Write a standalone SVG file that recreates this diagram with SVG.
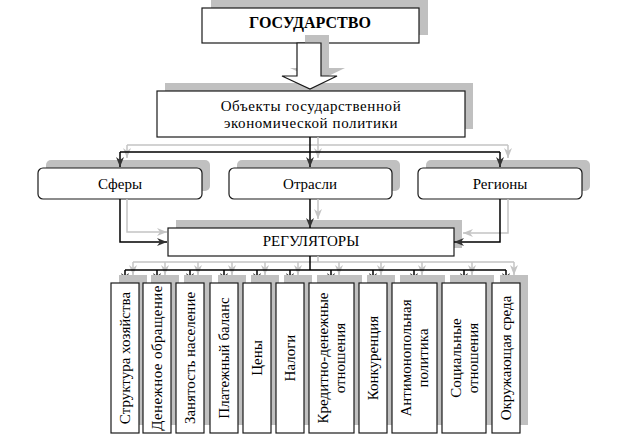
<svg xmlns="http://www.w3.org/2000/svg" width="624" height="437" viewBox="0 0 624 437" style="font-family:'Liberation Serif',serif">
<defs>
<style>
.sh{fill:#c0c0c0;stroke:none}
.bx{fill:#fff;stroke:#1a1a1a;stroke-width:1.2}
.t{fill:#000;text-anchor:middle;font-family:"Liberation Serif",serif}
.k{fill:none;stroke:#000;stroke-width:1.5}
.g{fill:none;stroke:#c4c4c4;stroke-width:1.5}
</style>
<marker id="ak" markerWidth="11" markerHeight="9" refX="10" refY="4" orient="auto" markerUnits="userSpaceOnUse" viewBox="0 0 11 9">
<path d="M0,0 L10,4 L0,8 L3,4 z" fill="#333"/>
</marker>
<marker id="ag" markerWidth="11" markerHeight="9" refX="10" refY="4" orient="auto" markerUnits="userSpaceOnUse" viewBox="0 0 11 9">
<path d="M0,0 L10,4 L0,8 L3,4 z" fill="#c4c4c4"/>
</marker>
</defs>
<rect width="624" height="437" fill="#fff"/>
<g id="gosudarstvo">
<rect class="sh" x="211" y="0" width="217" height="35"/>
<rect class="bx" x="202" y="8" width="217" height="35"/>
<text class="t" x="310" y="28" font-size="16" font-weight="bold" font-family="Liberation Serif, serif">ГОСУДАРСТВО</text>
</g>

<g id="objects">
<rect class="sh" x="165" y="83" width="308" height="46"/>
<rect class="bx" x="157" y="91" width="308" height="46"/>
<text class="t" x="311" y="111" font-size="15" font-family="Liberation Serif, serif" letter-spacing="0.6">Объекты государственной</text>
<text class="t" x="311" y="128" font-size="15" font-family="Liberation Serif, serif" letter-spacing="0.6">экономической политики</text>
</g>

<g id="bigarrow">
<path class="sh" d="M305,35 H329 V68 H345 L318,81 L290,68 H305 Z"/>
<path d="M297,43 H321 V76 H337 L310,89 L282,76 H297 Z" fill="#fff" stroke="#1a1a1a" stroke-width="1.2"/>
</g>

<g id="sfery">
<rect class="sh" x="46" y="160" width="164" height="31" rx="5"/>
<rect class="bx" x="38" y="168" width="164" height="31" rx="5"/>
<text class="t" x="120" y="189" font-size="15" font-family="Liberation Serif, serif">Сферы</text>
</g>
<g id="otrasli">
<rect class="sh" x="237" y="160" width="163" height="31" rx="5"/>
<rect class="bx" x="229" y="168" width="163" height="31" rx="5"/>
<text class="t" x="310" y="189" font-size="15" font-family="Liberation Serif, serif">Отрасли</text>
</g>
<g id="regiony">
<rect class="sh" x="426" y="160" width="164" height="31" rx="5"/>
<rect class="bx" x="418" y="168" width="164" height="31" rx="5"/>
<text class="t" x="500" y="189" font-size="15" font-family="Liberation Serif, serif">Регионы</text>
</g>

<g id="regulatory">
<rect class="sh" x="176" y="220" width="286" height="28"/>
<rect class="bx" x="168" y="228" width="286" height="28"/>
<text class="t" x="311" y="246" font-size="15" font-family="Liberation Serif, serif">РЕГУЛЯТОРЫ</text>
</g>

<g id="connectors">
<path class="g" d="M318,137 V145 M127,145 H508"/>
<path class="g" d="M127,145 V158" marker-end="url(#ag)"/>
<path class="g" d="M318,145 V158" marker-end="url(#ag)"/>
<path class="g" d="M508,145 V158" marker-end="url(#ag)"/>
<path class="k" d="M310,137 V152 M120,152 H500" stroke-width="2"/>
<path class="k" d="M120,152 V167" marker-end="url(#ak)"/>
<path class="k" d="M310,152 V167" marker-end="url(#ak)"/>
<path class="k" d="M500,152 V167" marker-end="url(#ak)"/>

<path class="g" d="M127,199 V232 H167" marker-end="url(#ag)"/>
<path class="g" d="M318,199 V219" marker-end="url(#ag)"/>
<path class="g" d="M508,199 V233 H463" marker-end="url(#ag)"/>
<path class="k" d="M120,199 V242 H167" marker-end="url(#ak)"/>
<path class="k" d="M310,199 V228" marker-end="url(#ak)"/>
<path class="k" d="M500,199 V242 H454" marker-end="url(#ak)"/>

<path class="g" d="M318,256 V262 M133,262 H514"/>
<path class="g" d="M133,262 V275" marker-end="url(#ag)"/>
<path class="g" d="M165,262 V275" marker-end="url(#ag)"/>
<path class="g" d="M198,262 V275" marker-end="url(#ag)"/>
<path class="g" d="M232,262 V275" marker-end="url(#ag)"/>
<path class="g" d="M265,262 V275" marker-end="url(#ag)"/>
<path class="g" d="M298,262 V275" marker-end="url(#ag)"/>
<path class="g" d="M339,262 V275" marker-end="url(#ag)"/>
<path class="g" d="M381,262 V275" marker-end="url(#ag)"/>
<path class="g" d="M422,262 V275" marker-end="url(#ag)"/>
<path class="g" d="M472,262 V275" marker-end="url(#ag)"/>
<path class="g" d="M514,262 V275" marker-end="url(#ag)"/>
<path class="k" d="M310,256 V270" stroke-width="3"/>
<path class="k" d="M125,270 H506"/>
<path class="k" d="M125,270 V283" marker-end="url(#ak)"/>
<path class="k" d="M157,270 V283" marker-end="url(#ak)"/>
<path class="k" d="M190,270 V283" marker-end="url(#ak)"/>
<path class="k" d="M224,270 V283" marker-end="url(#ak)"/>
<path class="k" d="M257,270 V283" marker-end="url(#ak)"/>
<path class="k" d="M290,270 V283" marker-end="url(#ak)"/>
<path class="k" d="M331,270 V283" marker-end="url(#ak)"/>
<path class="k" d="M373,270 V283" marker-end="url(#ak)"/>
<path class="k" d="M414,270 V283" marker-end="url(#ak)"/>
<path class="k" d="M464,270 V283" marker-end="url(#ak)"/>
<path class="k" d="M506,270 V283" marker-end="url(#ak)"/>
</g>

<g id="shadows-bottom">
<rect class="sh" x="119" y="275" width="28" height="150"/>
<rect class="sh" x="151" y="275" width="28" height="150"/>
<rect class="sh" x="184" y="275" width="28" height="150"/>
<rect class="sh" x="218" y="275" width="28" height="150"/>
<rect class="sh" x="251" y="275" width="28" height="150"/>
<rect class="sh" x="284" y="275" width="28" height="150"/>
<rect class="sh" x="317" y="275" width="45" height="150"/>
<rect class="sh" x="367" y="275" width="28" height="150"/>
<rect class="sh" x="400" y="275" width="45" height="150"/>
<rect class="sh" x="450" y="275" width="44" height="150"/>
<rect class="sh" x="500" y="275" width="28" height="150"/>
</g>

<g id="b1"><rect class="bx" x="111" y="283" width="28" height="150"/>
<text class="t" font-size="15" font-family="Liberation Serif, serif" x="125" y="363" transform="rotate(-90 125 358)">Структура хозяйства</text></g>
<g id="b2"><rect class="bx" x="143" y="283" width="28" height="150"/>
<text class="t" font-size="15" font-family="Liberation Serif, serif" letter-spacing="0.4" x="157" y="363" transform="rotate(-90 157 358)">Денежное обращение</text></g>
<g id="b3"><rect class="bx" x="176" y="283" width="28" height="150"/>
<text class="t" font-size="15" font-family="Liberation Serif, serif" x="190" y="363" transform="rotate(-90 190 358)">Занятость население</text></g>
<g id="b4"><rect class="bx" x="210" y="283" width="28" height="150"/>
<text class="t" font-size="15" font-family="Liberation Serif, serif" x="224" y="363" transform="rotate(-90 224 358)">Платежный баланс</text></g>
<g id="b5"><rect class="bx" x="243" y="283" width="28" height="150"/>
<text class="t" font-size="15" font-family="Liberation Serif, serif" x="257" y="363" transform="rotate(-90 257 358)">Цены</text></g>
<g id="b6"><rect class="bx" x="276" y="283" width="28" height="150"/>
<text class="t" font-size="15" font-family="Liberation Serif, serif" x="290" y="363" transform="rotate(-90 290 358)">Налоги</text></g>
<g id="b7"><rect class="bx" x="309" y="283" width="45" height="150"/>
<text class="t" font-size="15" font-family="Liberation Serif, serif" transform="rotate(-90 331.5 358)"><tspan x="331.5" y="354.5">Кредитно-денежные</tspan><tspan x="331.5" y="371.5">отношения</tspan></text></g>
<g id="b8"><rect class="bx" x="359" y="283" width="28" height="150"/>
<text class="t" font-size="15" font-family="Liberation Serif, serif" x="373" y="363" transform="rotate(-90 373 358)">Конкуренция</text></g>
<g id="b9"><rect class="bx" x="392" y="283" width="45" height="150"/>
<text class="t" font-size="15" font-family="Liberation Serif, serif" transform="rotate(-90 414 358)"><tspan x="414" y="354.5">Антимонопольная</tspan><tspan x="414" y="371.5">политика</tspan></text></g>
<g id="b10"><rect class="bx" x="442" y="283" width="44" height="150"/>
<text class="t" font-size="15" font-family="Liberation Serif, serif" transform="rotate(-90 464 358)"><tspan x="464" y="354.5">Социальные</tspan><tspan x="464" y="371.5">отношения</tspan></text></g>
<g id="b11"><rect class="bx" x="492" y="283" width="28" height="150"/>
<text class="t" font-size="15" font-family="Liberation Serif, serif" x="506" y="363" transform="rotate(-90 506 358)">Окружающая среда</text></g>
</svg>
